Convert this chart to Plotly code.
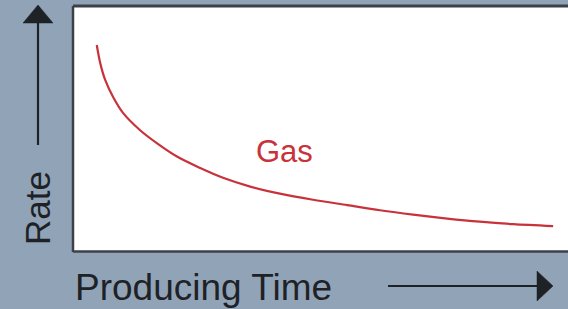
import plotly.graph_objects as go

W, H = 568, 309

# Data (arbitrary units: producing time vs rate)
time = [4.8, 5.5, 6.5, 8.1, 10.1, 13.5, 17.0, 21.0, 25.7, 30.3, 35.8, 41.8,
        48.5, 55.4, 62.0, 68.7, 75.6, 82.2, 88.9, 97.0]
rate = [84.4, 77.0, 70.1, 63.1, 56.6, 49.6, 44.1, 38.7, 34.0, 30.0, 26.4, 23.5,
        21.0, 18.8, 16.7, 14.9, 13.3, 12.0, 11.0, 10.2]
series_name = "Gas"
x_title = "Producing Time"
y_title = "Rate"

BG = "#91a4b7"
RED = "#c8323a"
DARK = "#1e2226"
BORDER = "#3b4148"

# plot area in pixels
L, R, T, B = 73, 568, 7, 251

def px(x):
    return x / W

def py(y):
    return 1 - y / H

fig = go.Figure()
fig.add_trace(go.Scatter(x=time, y=rate, mode="lines",
                         line=dict(color=RED, width=2.2, shape="spline", smoothing=0.9),
                         name=series_name, showlegend=False, hoverinfo="skip"))

fig.update_layout(
    width=W, height=H,
    margin=dict(l=0, r=0, t=0, b=0),
    paper_bgcolor=BG, plot_bgcolor="white",
    showlegend=False,
    xaxis=dict(domain=[px(L), px(R)], range=[0, 100], visible=False, fixedrange=True),
    yaxis=dict(domain=[py(B), py(T)], range=[0, 100], visible=False, fixedrange=True),
    font=dict(family="Liberation Sans, Arial, sans-serif", color=DARK),
)

# borders (left, top, bottom)
for (x0, y0, x1, y1, w) in [(L, T - 1, L, B + 1, 2.5), (L, T - 1, R, T - 1, 3), (L, B + 0.5, R, B + 0.5, 2.5)]:
    fig.add_shape(type="line", xref="paper", yref="paper",
                  x0=px(x0), y0=py(y0), x1=px(x1), y1=py(y1),
                  line=dict(color=BORDER, width=w))

# series label
fig.add_annotation(x=px(284), y=py(152), xref="paper", yref="paper",
                   text=series_name, showarrow=False,
                   font=dict(size=31, color=RED), xanchor="center", yanchor="middle")

# x title
fig.add_annotation(x=px(73), y=py(287), xref="paper", yref="paper",
                   text=x_title, showarrow=False,
                   font=dict(size=37, color=DARK), xanchor="left", yanchor="middle")

# y title
fig.add_annotation(x=px(37), y=py(208), xref="paper", yref="paper",
                   text=y_title, showarrow=False, textangle=-90,
                   font=dict(size=35, color=DARK), xanchor="center", yanchor="middle")

# horizontal arrow
fig.add_shape(type="line", xref="paper", yref="paper",
              x0=px(388), y0=py(286), x1=px(540), y1=py(286),
              line=dict(color=DARK, width=2.2))
fig.add_shape(type="path", xref="paper", yref="paper",
              path=f"M {px(537)} {py(271)} L {px(553)} {py(286)} L {px(537)} {py(301)} Z",
              fillcolor=DARK, line=dict(color=DARK, width=0.5))

# vertical arrow
fig.add_shape(type="line", xref="paper", yref="paper",
              x0=px(38), y0=py(145), x1=px(38), y1=py(20),
              line=dict(color=DARK, width=2.2))
fig.add_shape(type="path", xref="paper", yref="paper",
              path=f"M {px(23)} {py(23)} L {px(38)} {py(5)} L {px(53)} {py(23)} Z",
              fillcolor=DARK, line=dict(color=DARK, width=0.5))

fig.write_html("out.html", config={"displayModeBar": False, "staticPlot": True},
               post_script="document.body.style.margin='0';document.body.style.overflow='hidden';")
